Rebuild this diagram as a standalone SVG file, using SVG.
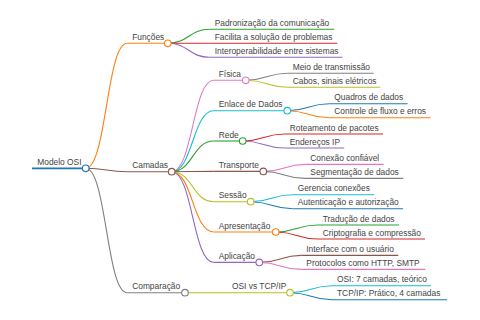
<svg xmlns="http://www.w3.org/2000/svg" width="480" height="320" viewBox="0 0 480 320">
<style>
text{font-family:"Liberation Sans",Arial,sans-serif;font-size:8.4px;fill:#444}
path,line{fill:none;stroke-width:1.1}
circle{fill:#fff;stroke-width:1.1}
.c0{stroke:#1f77b4}.c1{stroke:#ff7f0e}.c2{stroke:#2ca02c}.c3{stroke:#d62728}.c4{stroke:#9467bd}
.c5{stroke:#8c564b}.c6{stroke:#e377c2}.c7{stroke:#7f7f7f}.c8{stroke:#bcbd22}.c9{stroke:#17becf}
.root{stroke-width:1.8}
</style>
<rect width="480" height="320" fill="#fff"/>
<g id="connectors">
<path class="c1" d="M85.7,168.3 C106.5,168.3 106.5,43.3 127.2,43.3"/>
<path class="c5" d="M85.7,168.3 C106.5,168.3 106.5,171.7 127.2,171.7"/>
<path class="c7" d="M85.7,168.3 C106.5,168.3 106.5,292.7 127.2,292.7"/>
<path class="c2" d="M167.8,43.3 C188.8,43.3 188.8,29.3 209.7,29.3"/>
<path class="c3" d="M167.8,43.3 C188.8,43.3 188.8,43.3 209.7,43.3"/>
<path class="c4" d="M167.8,43.3 C188.8,43.3 188.8,57.3 209.7,57.3"/>
<path class="c6" d="M171.7,171.7 C192.7,171.7 192.7,80.3 213.7,80.3"/>
<path class="c9" d="M171.7,171.7 C192.7,171.7 192.7,110.7 213.7,110.7"/>
<path class="c2" d="M171.7,171.7 C192.7,171.7 192.7,141 213.7,141"/>
<path class="c5" d="M171.7,171.7 C192.7,171.7 192.7,171.4 213.7,171.4"/>
<path class="c8" d="M171.7,171.7 C192.7,171.7 192.7,201.7 213.7,201.7"/>
<path class="c1" d="M171.7,171.7 C192.7,171.7 192.7,232 213.7,232"/>
<path class="c4" d="M171.7,171.7 C192.7,171.7 192.7,262.4 213.7,262.4"/>
<path class="c8" d="M185,292.7 C206,292.7 206,292.7 227,292.7"/>
<path class="c7" d="M245.7,80.3 C266.7,80.3 266.7,73.3 287.7,73.3"/>
<path class="c8" d="M245.7,80.3 C266.7,80.3 266.7,87.3 287.7,87.3"/>
<path class="c0" d="M287.3,110.7 C308.3,110.7 308.3,103.7 329.3,103.7"/>
<path class="c1" d="M287.3,110.7 C308.3,110.7 308.3,117.7 329.3,117.7"/>
<path class="c3" d="M242.7,141 C263.7,141 263.7,134 284.7,134"/>
<path class="c4" d="M242.7,141 C263.7,141 263.7,148 284.7,148"/>
<path class="c6" d="M263.3,171.4 C284.3,171.4 284.3,164.4 305.3,164.4"/>
<path class="c7" d="M263.3,171.4 C284.3,171.4 284.3,178.4 305.3,178.4"/>
<path class="c9" d="M250.7,201.7 C271.7,201.7 271.7,194.7 292.7,194.7"/>
<path class="c0" d="M250.7,201.7 C271.7,201.7 271.7,208.7 292.7,208.7"/>
<path class="c2" d="M275.7,232 C296.7,232 296.7,225 317.7,225"/>
<path class="c3" d="M275.7,232 C296.7,232 296.7,239 317.7,239"/>
<path class="c5" d="M259.3,262.4 C280.3,262.4 280.3,255.4 301.3,255.4"/>
<path class="c6" d="M259.3,262.4 C280.3,262.4 280.3,269.4 301.3,269.4"/>
<path class="c9" d="M290,292.7 C311,292.7 311,285.7 332,285.7"/>
<path class="c0" d="M290,292.7 C311,292.7 311,299.7 332,299.7"/>
</g>
<g id="n-root"><line class="c0 root" x1="32" y1="168.3" x2="85.7" y2="168.3"/><circle class="c0" cx="85.7" cy="168.3" r="3.3"/><text x="37.3" y="165">Modelo OSI</text></g>
<g id="n-funcoes"><line class="c1" x1="127.2" y1="43.3" x2="167.8" y2="43.3"/><circle class="c1" cx="167.8" cy="43.3" r="3.3"/><text x="132.2" y="40">Funções</text></g>
<g id="n-camadas"><line class="c5" x1="127.2" y1="171.7" x2="171.7" y2="171.7"/><circle class="c5" cx="171.7" cy="171.7" r="3.3"/><text x="132.2" y="168.4">Camadas</text></g>
<g id="n-comparacao"><line class="c7" x1="127.2" y1="292.7" x2="185" y2="292.7"/><circle class="c7" cx="185" cy="292.7" r="3.3"/><text x="132.2" y="289.4">Comparação</text></g>
<g id="n-padronizacao"><line class="c2" x1="209.7" y1="29.3" x2="334.3" y2="29.3"/><text x="214.7" y="26">Padronização da comunicação</text></g>
<g id="n-facilita"><line class="c3" x1="209.7" y1="43.3" x2="337.3" y2="43.3"/><text x="214.7" y="40">Facilita a solução de problemas</text></g>
<g id="n-interop"><line class="c4" x1="209.7" y1="57.3" x2="342.5" y2="57.3"/><text x="214.7" y="54">Interoperabilidade entre sistemas</text></g>
<g id="n-fisica"><line class="c6" x1="213.7" y1="80.3" x2="245.7" y2="80.3"/><circle class="c6" cx="245.7" cy="80.3" r="3.3"/><text x="218.7" y="77">Física</text></g>
<g id="n-enlace"><line class="c9" x1="213.7" y1="110.7" x2="287.3" y2="110.7"/><circle class="c9" cx="287.3" cy="110.7" r="3.3"/><text x="218.7" y="107.4">Enlace de Dados</text></g>
<g id="n-rede"><line class="c2" x1="213.7" y1="141" x2="242.7" y2="141"/><circle class="c2" cx="242.7" cy="141" r="3.3"/><text x="218.7" y="137.7">Rede</text></g>
<g id="n-transporte"><line class="c5" x1="213.7" y1="171.4" x2="263.3" y2="171.4"/><circle class="c5" cx="263.3" cy="171.4" r="3.3"/><text x="218.7" y="168.1">Transporte</text></g>
<g id="n-sessao"><line class="c8" x1="213.7" y1="201.7" x2="250.7" y2="201.7"/><circle class="c8" cx="250.7" cy="201.7" r="3.3"/><text x="218.7" y="198.4">Sessão</text></g>
<g id="n-apresentacao"><line class="c1" x1="213.7" y1="232" x2="275.7" y2="232"/><circle class="c1" cx="275.7" cy="232" r="3.3"/><text x="218.7" y="228.7">Apresentação</text></g>
<g id="n-aplicacao"><line class="c4" x1="213.7" y1="262.4" x2="259.3" y2="262.4"/><circle class="c4" cx="259.3" cy="262.4" r="3.3"/><text x="218.7" y="259.1">Aplicação</text></g>
<g id="n-osivstcp"><line class="c8" x1="227" y1="292.7" x2="290" y2="292.7"/><circle class="c8" cx="290" cy="292.7" r="3.3"/><text x="232" y="289.4">OSI vs TCP/IP</text></g>
<g id="n-meio"><line class="c7" x1="287.7" y1="73.3" x2="373.7" y2="73.3"/><text x="292.7" y="70">Meio de transmissão</text></g>
<g id="n-cabos"><line class="c8" x1="287.7" y1="87.3" x2="380.2" y2="87.3"/><text x="292.7" y="84">Cabos, sinais elétricos</text></g>
<g id="n-quadros"><line class="c0" x1="329.3" y1="103.7" x2="407.6" y2="103.7"/><text x="334.3" y="100.4">Quadros de dados</text></g>
<g id="n-controle"><line class="c1" x1="329.3" y1="117.7" x2="430.5" y2="117.7"/><text x="334.3" y="114.4">Controle de fluxo e erros</text></g>
<g id="n-roteamento"><line class="c3" x1="284.7" y1="134" x2="383" y2="134"/><text x="289.7" y="130.7">Roteamento de pacotes</text></g>
<g id="n-enderecos"><line class="c4" x1="284.7" y1="148" x2="344.2" y2="148"/><text x="289.7" y="144.7">Endereços IP</text></g>
<g id="n-conexao"><line class="c6" x1="305.3" y1="164.4" x2="383.6" y2="164.4"/><text x="310.3" y="161.1">Conexão confiável</text></g>
<g id="n-segmentacao"><line class="c7" x1="305.3" y1="178.4" x2="403.2" y2="178.4"/><text x="310.3" y="175.1">Segmentação de dados</text></g>
<g id="n-gerencia"><line class="c9" x1="292.7" y1="194.7" x2="374.2" y2="194.7"/><text x="297.7" y="191.4">Gerencia conexões</text></g>
<g id="n-autenticacao"><line class="c0" x1="292.7" y1="208.7" x2="403.1" y2="208.7"/><text x="297.7" y="205.4">Autenticação e autorização</text></g>
<g id="n-traducao"><line class="c2" x1="317.7" y1="225" x2="398.9" y2="225"/><text x="322.7" y="221.7">Tradução de dados</text></g>
<g id="n-cripto"><line class="c3" x1="317.7" y1="239" x2="425" y2="239"/><text x="322.7" y="235.7">Criptografia e compressão</text></g>
<g id="n-interface"><line class="c5" x1="301.3" y1="255.4" x2="398.3" y2="255.4"/><text x="306.3" y="252.1">Interface com o usuário</text></g>
<g id="n-protocolos"><line class="c6" x1="301.3" y1="269.4" x2="425.3" y2="269.4"/><text x="306.3" y="266.1">Protocolos como HTTP, SMTP</text></g>
<g id="n-osi7"><line class="c9" x1="332" y1="285.7" x2="431.1" y2="285.7"/><text x="337" y="282.4">OSI: 7 camadas, teórico</text></g>
<g id="n-tcpip"><line class="c0" x1="332" y1="299.7" x2="447" y2="299.7"/><text x="337" y="296.4">TCP/IP: Prático, 4 camadas</text></g>
</svg>
